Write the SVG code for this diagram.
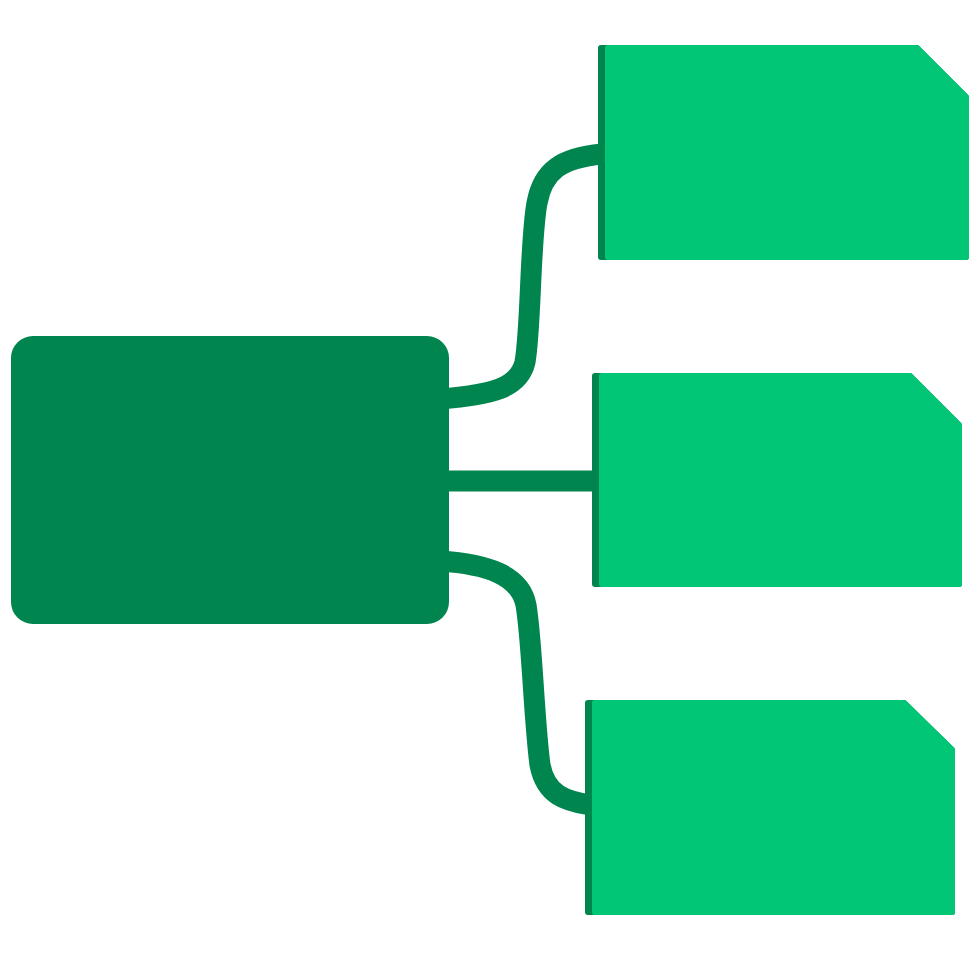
<svg xmlns="http://www.w3.org/2000/svg" width="980" height="980" viewBox="0 0 980 980">
  <style>
    .dark { fill: #00854F; stroke: #00854F; stroke-width: 6; stroke-linejoin: round; }
    .light { fill: #00C675; stroke: #00C675; stroke-width: 6; stroke-linejoin: round; }
    .conn { fill: none; stroke: #00854F; stroke-width: 21; }
  </style>
  <rect width="980" height="980" fill="#FFFFFF"/>
  <g id="connectors">
    <path class="conn" d="M440,399 C492,395 519,388 525,362 C531,330 530,240 537,203 C543,170 562,158 602,154"/>
    <path class="conn" d="M440,481 L596,481"/>
    <path class="conn" d="M440,561 C487,564 520,575 526,605 C532,640 534,720 540,765 C546,795 565,801 590,805"/>
  </g>
  <g id="main">
    <rect x="11" y="336" width="438" height="288" rx="22" fill="#00854F"/>
  </g>
  <g id="item1">
    <polygon class="dark" points="601,48 917,48 966,97 966,257 601,257"/>
    <polygon class="light" points="608,48 917,48 966,97 966,257 608,257"/>
  </g>
  <g id="item2">
    <polygon class="dark" points="595,376 910,376 959,425 959,584 595,584"/>
    <polygon class="light" points="602,376 910,376 959,425 959,584 602,584"/>
  </g>
  <g id="item3">
    <polygon class="dark" points="588,703 904,703 952,750 952,912 588,912"/>
    <polygon class="light" points="595,703 904,703 952,750 952,912 595,912"/>
  </g>
</svg>
